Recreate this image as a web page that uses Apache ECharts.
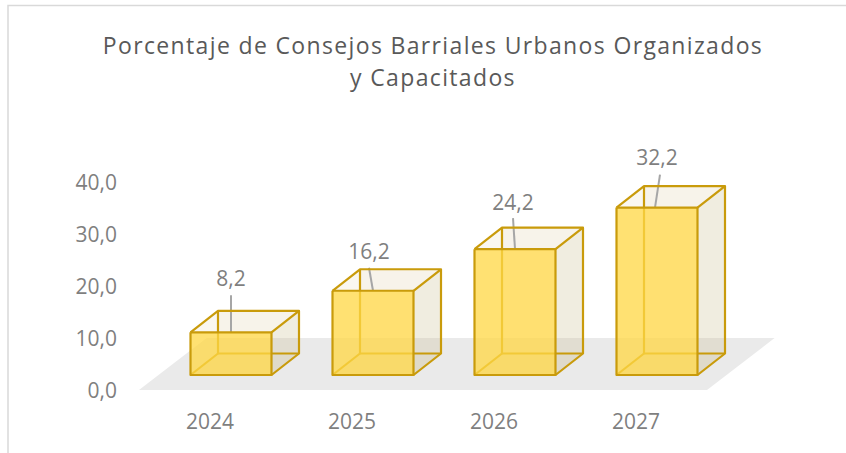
<!DOCTYPE html>
<html><head><meta charset="utf-8">
<style>
html,body{margin:0;padding:0;background:#fff}
#c{width:846px;height:453px}
#c svg text[style*="23px"]{letter-spacing:1.35px}
</style>
<script src="https://cdn.jsdelivr.net/npm/echarts@6/dist/echarts.min.js"></script>
</head><body><div id="c"></div>
<script>
const categories = ['2024','2025','2026','2027'];
const values = [8.2,16.2,24.2,32.2];
const valueLabels = ['8,2','16,2','24,2','32,2'];
const titleText = 'Porcentaje de Consejos Barriales Urbanos Organizados\ny Capacitados';

const chart = echarts.init(document.getElementById('c'), null, {renderer:'svg'});
const G = {dx:27.5, dy:21.5, w:81, ox:21, oy:15};
const labelOff = [[0,-54],[-4,-40],[-2,-47],[0,-51]];
const lineEnd = [[0,-37],[-4,-23],[-2,-31],[3,-33]];
const lineStart = [[0,0],[0,0],[0,0],[-2,0]];
const EDGE = '#C99B0B';

function renderFloor(params, api){
  const l = api.coord([0,0]), r = api.coord([categories.length-1,0]);
  const band = api.size([1,0])[0];
  const top = api.coord([0,10])[1];
  const y = l[1], x0 = l[0]-band/2, x1 = r[0]+band/2, d = (y-top)*1.3;
  return {type:'polygon', silent:true, shape:{points:[[x0,y],[x1,y],[x1+d,top],[x0+d,top]]}, style:{fill:'#EAEAEA'}};
}
function renderBar(params, api){
  const i = api.value(0), v = api.value(1);
  const b = api.coord([i,0]), t = api.coord([i,v]);
  const xl = b[0]+G.ox-G.w/2, xr = xl+G.w, yb = b[1]-G.oy, yt = t[1]-G.oy;
  const F = (x,y)=>[x,y], B = (x,y)=>[x+G.dx,y-G.dy];
  const poly = (pts,fill)=>({type:'polygon',shape:{points:pts},style:{fill,stroke:null}});
  const seg = (pts,c,w)=>({type:'polyline',shape:{points:pts},style:{fill:null,stroke:c,lineWidth:w||2.2,lineJoin:'round'}});
  const tx = (xl+xr)/2;
  return {type:'group', children:[
    poly([B(xl,yt),B(xr,yt),B(xr,yb),B(xl,yb)],'rgba(205,192,148,.06)'),
    poly([F(xl,yb),F(xr,yb),B(xr,yb),B(xl,yb)],'rgba(205,192,148,.16)'),
    poly([F(xr,yt),B(xr,yt),B(xr,yb),F(xr,yb)],'rgba(205,192,148,.24)'),
    poly([F(xl,yt),F(xr,yt),B(xr,yt),B(xl,yt)],'rgba(205,180,110,.10)'),
    seg([B(xl,yt),B(xl,yb),B(xr,yb)],EDGE),
    seg([F(xl,yb),B(xl,yb)],EDGE),
    seg([[tx+lineStart[i][0],yt],[tx+lineEnd[i][0],yt+lineEnd[i][1]]],'#A6A6A6',2),
    poly([F(xl,yt),F(xr,yt),F(xr,yb),F(xl,yb)],'rgba(255,216,70,.76)'),
    seg([F(xl,yt),F(xr,yt),F(xr,yb),F(xl,yb),F(xl,yt)],EDGE),
    seg([F(xl,yt),B(xl,yt),B(xr,yt),F(xr,yt)],EDGE),
    seg([B(xr,yt),B(xr,yb),F(xr,yb)],EDGE),
    {type:'text',style:{x:tx+labelOff[i][0],y:yt+labelOff[i][1],text:valueLabels[i],align:'center',verticalAlign:'middle',
      font:'21px "Open Sans"',fill:'#7F7F7F'}}
  ]};
}
chart.setOption({
  animation:false,
  backgroundColor:'#fff',
  title:{text:titleText,left:428,top:24,textAlign:'center',
    textStyle:{fontFamily:'Open Sans',fontSize:23,fontWeight:'normal',color:'#595959',lineHeight:32}},
  grid:{left:139,right:139,top:182,height:208},
  xAxis:{type:'category',data:categories,axisLine:{show:false},axisTick:{show:false},
    axisLabel:{fontFamily:'Open Sans',fontSize:21,color:'#7F7F7F',margin:20}},
  yAxis:{type:'value',min:0,max:40,interval:10,splitLine:{show:false},axisLine:{show:false},axisTick:{show:false},
    axisLabel:{fontFamily:'Open Sans',fontSize:21,color:'#7F7F7F',margin:22,padding:[3,0,0,0],formatter:v=>v.toFixed(1).replace('.',',')}},
  graphic:[{type:'polyline',silent:true,shape:{points:[[8,453],[8,5.5],[846,5.5]]},style:{fill:null,stroke:'#D9D9D9',lineWidth:1.5}}],
  series:[
    {type:'custom',coordinateSystem:'cartesian2d',silent:true,clip:false,renderItem:renderFloor,data:[[0,0]],z:1},
    {type:'custom',coordinateSystem:'cartesian2d',silent:true,clip:false,renderItem:renderBar,encode:{x:0,y:1},
      data:values.map((v,i)=>[i,v]),z:2}
  ]
});
</script></body></html>
